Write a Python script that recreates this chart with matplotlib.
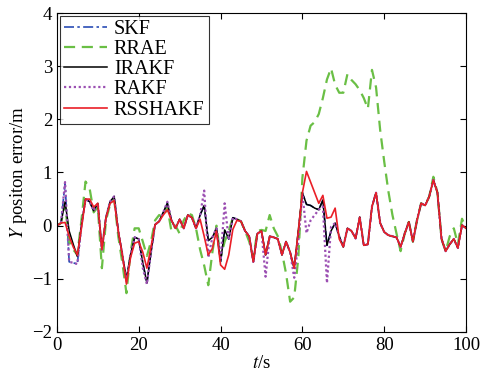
import numpy as np
import matplotlib
matplotlib.use("Agg")
import matplotlib.pyplot as plt

t = np.arange(0, 101)

irakf = [0.0, 0.05, 0.45, -0.1, -0.35, -0.58, 0.0, 0.5, 0.45, 0.28,
         0.42, -0.45, 0.15, 0.45, 0.55, -0.1, -0.55, -1.0, -0.55, -0.22,
         -0.25, -0.7, -1.08, -0.5, 0.02, 0.08, 0.25, 0.42, 0.1, -0.05,
         0.12, -0.05, 0.2, 0.15, -0.05, 0.2, 0.38, -0.28, -0.22, -0.05,
         -0.68, -0.08, -0.25, 0.15, 0.12, 0.08, -0.1, -0.2, -0.68, -0.15,
         -0.1, -0.55, -0.2, -0.22, -0.25, -0.55, -0.3, -0.5, -0.8, -0.1,
         0.62, 0.4, 0.38, 0.33, 0.3, 0.48, -0.37, -0.1, 0.05, -0.2,
         -0.4, -0.05, -0.1, -0.24, 0.16, -0.37, -0.35, 0.36, 0.62, 0.05,
         -0.12, -0.18, -0.2, -0.22, -0.4, -0.15, 0.07, -0.3, 0.1, 0.42,
         0.38, 0.55, 0.86, 0.62, -0.25, -0.48, -0.35, -0.25, -0.42, 0.01,
         -0.05]

skf = list(irakf)
skf[2:6] = [0.8, -0.68, -0.7, -0.72]

rakf = list(irakf)
rakf[2:6] = [0.82, -0.68, -0.7, -0.72]
rakf[17] = -1.05
rakf[21:23] = [-0.8, -1.1]
rakf[27] = 0.45
rakf[36:38] = [0.66, -0.6]
rakf[40:43] = [-0.65, 0.42, -0.27]
rakf[51] = -0.96
rakf[58:68] = [-0.98, -0.3, 0.6, -0.14, 0.1, 0.2, 0.3, 0.36, -1.08, -0.02]

rsshakf = list(irakf)
rsshakf[2:7] = [0.06, -0.2, -0.4, -0.55, -0.05]
rsshakf[7:11] = [0.5, 0.5, 0.35, 0.42]
rsshakf[13:15] = [0.42, 0.47]
rsshakf[17:24] = [-1.1, -0.6, -0.33, -0.3, -0.5, -0.8, -0.4]
rsshakf[26:28] = [0.2, 0.3]
rsshakf[35:45] = [0.12, -0.2, -0.55, -0.43, -0.1, -0.74, -0.82, -0.55, -0.07, 0.1]
rsshakf[61:70] = [1.02, 0.82, 0.62, 0.42, 0.57, 0.14, 0.16, 0.33, -0.25]

rrae = list(irakf)
rrae[2:7] = [0.4, -0.3, -0.45, -0.55, 0.1]
rrae[7:25] = [0.83, 0.7, 0.25, 0.35, -0.8, 0.1, 0.4, 0.5, -0.2, -0.7,
              -1.27, -0.5, -0.05, -0.05, -0.3, -0.57, -0.3, 0.1]
rrae[25:34] = [0.2, 0.15, 0.35, -0.11, 0.0, -0.15, 0.1, 0.23, 0.2]
rrae[34:43] = [-0.05, -0.45, -0.75, -1.12, -0.5, 0.0, -0.6, -0.3, -0.1]
rrae[47:59] = [-0.3, -0.6, -0.1, -0.08, -0.1, 0.2, -0.05, -0.2, -0.5, -0.9,
               -1.43, -1.35]
rrae[59:86] = [-0.6, 0.9, 1.6, 1.88, 1.95, 2.1, 2.4, 2.75, 2.96, 2.65,
               2.5, 2.5, 2.85, 2.74, 2.66, 2.55, 2.4, 2.2, 2.93, 2.6,
               1.8, 1.2, 0.65, 0.2, -0.15, -0.48, -0.15]
rrae[92] = 0.92
rrae[96:100] = [-0.2, -0.05, -0.35, 0.13]

plt.rcParams['font.family'] = ['Liberation Serif', 'DejaVu Serif']
plt.rcParams['mathtext.fontset'] = 'stix'

fig = plt.figure(figsize=(4.82, 3.77), dpi=100)
ax = fig.add_axes([0.118, 0.1194, 0.849, 0.8461])

ax.plot(t, skf, color='#2a4db5', lw=1.2, linestyle=(0, (6, 2, 1.5, 2)), label='SKF')
ax.plot(t, rrae, color='#6abf45', lw=1.6, linestyle=(0, (5, 3)), label='RRAE')
ax.plot(t, irakf, color='black', lw=1.1, label='IRAKF')
ax.plot(t, rakf, color='#9b4fb2', lw=1.6, linestyle=(0, (1, 1.2)), label='RAKF')
ax.plot(t, rsshakf, color='#ea1f27', lw=1.2, label='RSSHAKF')

ax.set_xlim(0, 100)
ax.set_ylim(-2, 4)
ax.set_xticks([0, 20, 40, 60, 80, 100])
ax.set_yticks([-2, -1, 0, 1, 2, 3, 4])
ax.tick_params(direction='in', top=True, right=True, labelsize=13.5, length=4)
ax.set_xlabel(r'$t$/s', fontsize=13.5, labelpad=1)
ax.set_ylabel(r'$Y$ positon error/m', fontsize=13.5, labelpad=2)

leg = ax.legend(loc='upper left', fontsize=14.5, frameon=True, fancybox=False,
                edgecolor='black', borderaxespad=0.15, handlelength=2.15,
                labelspacing=0.05, borderpad=0.2, handletextpad=0.33)
leg.get_frame().set_linewidth(0.8)

fig.savefig('out.png', dpi=100)
